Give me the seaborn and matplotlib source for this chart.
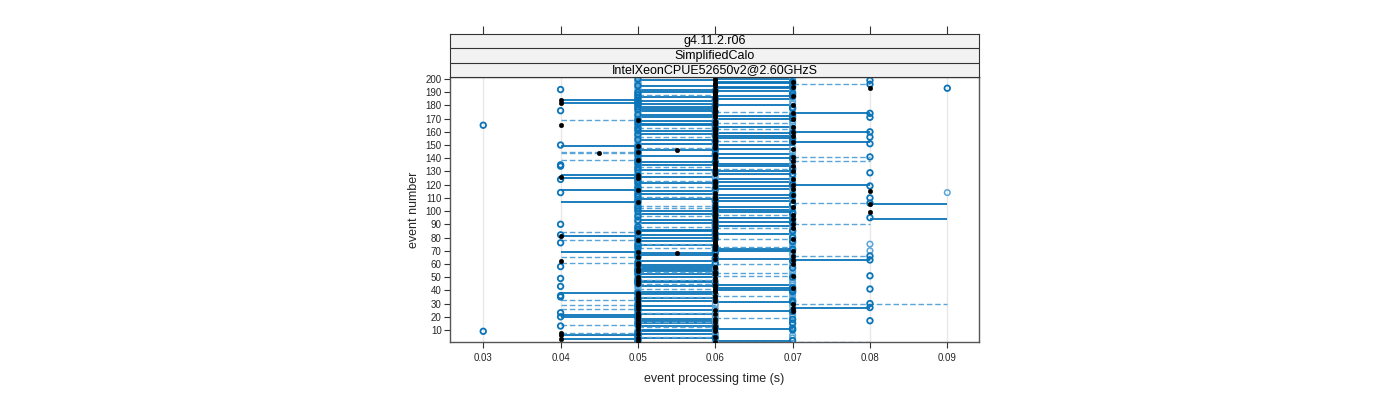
import numpy as np
import pandas as pd
import matplotlib
matplotlib.use("Agg")
import matplotlib.pyplot as plt
import seaborn as sns

sns.set_theme(style="white")
plt.rcParams['font.family'] = ['Liberation Sans', 'DejaVu Sans']

# ---- data (times in units of 0.01 s) ----
events = list(range(1, 201))

t_filled = [6,5,4,5,6,4,5,4,6,5, 6,5,6,5,5,6,5,6,5,5,
            5,6,5,7,6,5,7,5,5,7, 5,6,5,6,5,6,5,5,6,6,
            6,7,6,6,5,5,6,5,6,5, 7,6,6,6,5,5,6,6,5,7,
            5,4,7,6,5,7,6,5.5,5,7, 6,6,6,6,6,6,6,5,7,6,
            4,6,6,5,6,6,7,6,6,7, 6,6,6,7,6,6,7,6,8,6,
            6,6,7,6,8,6,5,7,6,6, 6,7,6,6,8,5,7,6,6,7,
            6,6,6,7,5,4,5,6,6,7, 6,6,6,7,6,6,6,7,5,6,
            7,6,6,4.5,5,5.5,7,6,5,6, 6,7,6,6,6,6,7,6,6,7,
            6,6,6,7,4,6,6,6,5,7, 6,6,6,7,6,6,6,6,6,7,
            6,4,6,4,6,6,7,6,6,6, 6,6,8,7,6,6,6,7,6,6]

t_open = [5,7,5,6,5,5,5,5,3,7, 7,6,4,5,7,5,8,7,5,4,
          5,5,4,7,5,5,8,5,5,8, 7,7,5,5,4,4,5,5,7,7,
          8,7,4,6,5,5,5,5,4,7, 8,5,6,5,5,5,7,4,5,6,
          5,7,8,6,5,8,5,6,5,6, 7,5,6,5,5,4,7,5,6,7,
          5,4,6,5,7,5,6,5,6,4, 7,6,5,7,8,5,6,7,7,5,
          6,5,6,5,7,8,5,6,5,8, 5,7,5,4,5,5,6,5,8,7,
          5,6,5,4,5,5,5,7,8,6, 5,7,5,4,4,5,6,5,5,7,
          8,5,6,5,5,6,6,5,5,4, 8,7,6,5,7,8,6,5,7,8,
          5,6,5,6,3,5,6,5,5,7, 8,7,5,8,6,4,5,7,5,6,
          5,5,5,5,6,5,7,5,7,5, 6,4,9,7,5,8,7,7,8,5]

t_open2 = [6,5,5,7,6,7,6,6,5,5, 6,7,5,6,5,7,6,5,6,7,
           6,7,6,5,7,6,5,7,6,5, 5,6,7,7,5,7,6,7,5,5,
           7,5,5,7,6,7,6,7,5,5, 6,7,5,7,5,6,5,5,7,5,
           6,5,6,7,6,5,7,5,7,8, 5,7,5,7,8,7,5,7,5,5,
           6,7,5,7,5,7,5,7,5,6, 5,5,7,6,5,7,5,5,6,7,
           5,7,5,7,6,5,6,5,7,6, 7,5,7,9,6,7,5,7,5,6,
           7,5,7,5,6,7,6,5,5,5, 7,5,7,5,5,7,5,6,7,5,
           6,7,5,5,7,5,5,7,6,5, 5,6,5,7,5,5,5,7,5,6,
           7,5,7,5,5,7,5,7,6,5, 5,5,7,7,5,5,7,5,7,5,
           7,6,7,6,5,7,5,7,5,7, 5,7,5,5,7,5,5,5,5,7]

seg_lo = [6,6,4,5,5,4,5,4,5,5, 6,5,5,4,5,5,5,5,6,4,
          4,5,5,6,5,4,7,5,4,7, 6,5,4,5,5,6,5,4,5,6,
          5,6,5,6,5,5,5,5,6,5, 6,5,6,5,5,5,6,5,5,6,
          4,5,7,6,4,7,5,5,4,6, 6,5,6,5,5,6,5,4,6,5,
          4,5,6,4,5,5,6,5,6,7, 5,6,5,8,6,5,6,5,6,5,
          6,5,6,5,8,7,4,6,5,6, 5,6,5,6,5,4,6,5,6,7,
          5,6,5,6,4,5,4,6,5,6, 5,6,5,6,5,6,5,7,4,6,
          7,5,6,4,4,5,6,5,4,6, 5,7,6,5,6,5,6,5,6,7,
          5,6,5,6,5,5,6,5,4,6, 5,6,5,7,6,5,5,6,5,6,
          5,4,5,4,6,5,6,5,6,5, 6,5,6,6,5,7,6,6,5,6]

seg_hi = [8,7,5,6,6,5,6,5,6,6, 7,6,6,5,6,6,6,6,7,5,
          5,6,6,7,6,5,8,6,5,9, 7,6,5,6,6,7,6,5,6,7,
          6,7,6,7,6,6,6,6,6,6, 7,6,7,6,6,6,6,6,6,7,
          5,6,8,7,5,8,6,6,5,7, 7,6,7,6,6,6,6,5,7,6,
          5,6,7,5,6,6,7,6,7,8, 6,7,6,9,7,6,7,6,7,6,
          7,6,7,6,9,8,5,7,6,7, 6,7,6,6,6,5,7,6,7,8,
          6,7,6,7,5,6,5,7,6,7, 6,7,6,7,6,7,6,8,5,7,
          8,6,7,5,5,6,7,6,5,7, 6,8,7,6,7,6,7,6,7,8,
          6,7,6,7,6,6,7,6,5,7, 6,7,6,8,7,6,6,6,6,7,
          6,5,6,5,7,6,7,6,6,6, 7,6,7,7,6,8,7,7,6,7]

seg_dashed = [1,0,0,0,1,0,0,1,0,0, 0,1,0,1,0,1,0,0,1,0,
              0,0,1,0,0,1,0,0,1,1, 0,0,1,0,1,1,0,0,0,0,
              1,0,0,0,1,0,0,1,0,0, 1,0,1,1,0,0,0,0,0,1,
              1,0,0,0,1,1,0,0,0,0, 0,1,1,0,1,0,0,1,1,0,
              0,0,0,1,0,0,1,1,0,1, 0,0,0,0,0,1,1,0,0,0,
              0,1,0,1,0,1,0,0,0,0, 1,0,0,0,0,0,0,1,0,0,
              0,0,1,0,0,0,0,0,1,0, 0,1,1,0,0,0,0,1,1,0,
              1,0,0,1,1,0,0,1,0,0, 0,0,1,0,0,1,0,0,0,0,
              0,1,1,0,0,0,1,0,1,0, 0,0,0,0,1,0,0,0,0,0,
              0,0,0,0,0,0,0,1,0,0, 0,0,0,0,0,1,0,0,0,0]

x_ticks = [0.03, 0.04, 0.05, 0.06, 0.07, 0.08, 0.09]
y_ticks = list(range(10, 201, 10))
strip_labels = ["g4.11.2.r06", "SimplifiedCalo", "IntelXeonCPUE52650v2@2.60GHzS"]

# ---- build frames ----
ev = np.array(events)
lo = np.array(seg_lo) / 100.0
hi = np.array(seg_hi) / 100.0
dsh = np.array(seg_dashed).astype(bool)
df_f = pd.DataFrame({"t": np.array(t_filled) / 100.0, "e": ev})
df_o = pd.DataFrame({"t": np.array(t_open) / 100.0, "e": ev})
df_o2 = pd.DataFrame({"t": np.array(t_open2) / 100.0, "e": ev})

W, H = 1400, 400
fig = plt.figure(figsize=(14, 4), dpi=100)
ax = fig.add_axes([450 / W, 1 - 342 / H, (979 - 450) / W, (342 - 77) / H])
sax = fig.add_axes([450 / W, 1 - 77 / H, (979 - 450) / W, (77 - 34) / H], sharex=ax)

blue = "#0a74b8"
light = "#5aa5d8"

for xv in x_ticks:
    ax.axvline(xv, color="#e8e8e8", lw=1.0, zorder=0)

has = hi > lo
ax.hlines(ev[has & ~dsh], lo[has & ~dsh], hi[has & ~dsh], colors=blue, lw=1.3, zorder=2)
ax.hlines(ev[has & dsh], lo[has & dsh], hi[has & dsh], colors=light, lw=1.0,
          linestyles=(0, (4, 2)), zorder=2)

sns.scatterplot(data=df_o2, x="t", y="e", ax=ax, marker="o", s=16,
                facecolor="none", edgecolor=light, linewidth=1.1, zorder=3, legend=False)
sns.scatterplot(data=df_o, x="t", y="e", ax=ax, marker="o", s=16,
                facecolor="none", edgecolor=blue, linewidth=1.3, zorder=4, legend=False)
sns.scatterplot(data=df_f, x="t", y="e", ax=ax, marker="o", s=11,
                color="black", edgecolor="black", linewidth=0.3, zorder=5, legend=False)

ax.set_xlim(0.0257, 0.0941)
ax.set_ylim(0.9, 201.5)
ax.set_xticks(x_ticks)
ax.set_xticklabels([f"{v:.2f}" for v in x_ticks])
ax.set_yticks(y_ticks)
ax.set_yticklabels([str(v) for v in y_ticks])
ax.tick_params(axis="both", labelsize=7, length=4, width=0.8, color="#333333",
               direction="out", pad=2)
ax.tick_params(axis="x", pad=4)
ax.tick_params(axis="y", right=False, left=True)
ax.tick_params(axis="x", bottom=True, top=False)
for sp in ax.spines.values():
    sp.set_color("#555555")
    sp.set_linewidth(1.0)
ax.set_xlabel("event processing time (s)", fontsize=9, labelpad=7)
ax.set_ylabel("event number", fontsize=9, labelpad=4)

# strips
sax.set_ylim(0, 3)
for i, lab in enumerate(strip_labels):
    yb = 2 - i
    sax.axhspan(yb, yb + 1, facecolor="#f2f2f2", edgecolor="none", zorder=0)
    sax.text(0.5, yb + 0.5, lab, transform=sax.get_yaxis_transform(),
             ha="center", va="center", fontsize=9, color="black")
for yb in [1, 2]:
    sax.axhline(yb, color="#333333", lw=0.8)
sax.set_yticks([])
sax.tick_params(axis="x", bottom=False, top=True, labelbottom=False, labeltop=False,
                length=6, width=0.8, color="#333333", direction="out")
for sp in sax.spines.values():
    sp.set_color("#333333")
    sp.set_linewidth(0.8)
sax.set_xlabel("")
sax.set_ylabel("")

fig.savefig("out.png", dpi=100)
